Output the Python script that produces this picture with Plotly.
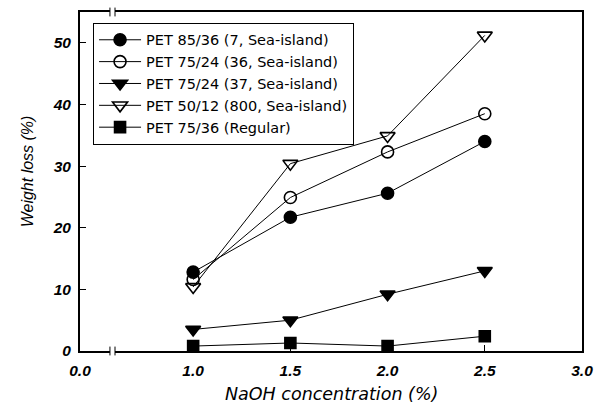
import plotly.graph_objects as go

x_vals = [1.0, 1.5, 2.0, 2.5]
names = [
    "PET 85/36 (7, Sea-island)",
    "PET 75/24 (36, Sea-island)",
    "PET 75/24 (37, Sea-island)",
    "PET 50/12 (800, Sea-island)",
    "PET 75/36 (Regular)",
]
s1 = [12.8, 21.7, 25.6, 34.0]
s2 = [11.6, 24.9, 32.3, 38.5]
s3 = [3.5, 5.0, 9.2, 13.0]
s4 = [10.4, 30.4, 34.9, 51.2]
s5 = [0.8, 1.3, 0.8, 2.4]
series = [s1, s2, s3, s4, s5]
symbols = ["circle", "circle-open", "triangle-down", "triangle-down-open", "square"]
sizes = [12, 12, 13, 13, 11]

x_tick_vals = [0.418, 1.0, 1.5, 2.0, 2.5, 3.0]
x_tick_text = ["0.0", "1.0", "1.5", "2.0", "2.5", "3.0"]
y_tick_vals = [0, 10, 20, 30, 40, 50]
x_title = "NaOH concentration (%)"
y_title = "Weight loss (%)"

FONT = "Liberation Sans, Arial, sans-serif"
WIDE = "DejaVu Sans, sans-serif"

fig = go.Figure()
for name, ys, sym, sz in zip(names, series, symbols, sizes):
    fig.add_trace(go.Scatter(
        x=x_vals, y=ys, name=name, mode="lines+markers",
        line=dict(color="black", width=1),
        marker=dict(symbol=sym, size=sz, color="black",
                    line=dict(color="black", width=1.6)),
    ))

tickfont = dict(size=15.5, family=FONT, weight="bold", style="italic")

fig.update_layout(
    width=602, height=409,
    margin=dict(l=80, r=20, t=12, b=58, autoexpand=False),
    paper_bgcolor="white", plot_bgcolor="white",
    font=dict(family=FONT, color="black"),
    showlegend=True,
    legend=dict(
        x=0.026, y=0.968, xanchor="left", yanchor="top",
        bordercolor="black", borderwidth=1, bgcolor="white",
        font=dict(size=14.5, family=WIDE), tracegroupgap=0,
        itemwidth=42,
    ),
    xaxis=dict(
        range=[0.418, 3.0], tickvals=x_tick_vals, ticktext=x_tick_text,
        showline=True, linecolor="black", linewidth=2, mirror=True,
        ticks="inside", ticklen=6, tickwidth=1, tickcolor="black",
        showgrid=False, zeroline=False, ticklabelstandoff=4,
        tickfont=tickfont, automargin=False,
    ),
    yaxis=dict(
        range=[0, 55], tickvals=y_tick_vals,
        showline=True, linecolor="black", linewidth=2, mirror=True,
        ticks="inside", ticklen=6, tickwidth=1, tickcolor="black",
        showgrid=False, zeroline=False, ticklabelstandoff=4,
        tickfont=tickfont, automargin=False,
    ),
    annotations=[
        dict(text=y_title, textangle=-90, showarrow=False,
             xref="paper", yref="paper", x=-0.1056, y=0.53,
             xanchor="center", yanchor="middle",
             font=dict(size=16, family=FONT, style="italic")),
        dict(text=x_title, showarrow=False,
             xref="paper", yref="paper", x=0.5, y=-0.128,
             xanchor="center", yanchor="middle",
             font=dict(size=17.5, family=WIDE, style="italic")),
    ],
)

# axis break marks (bottom and top)
bx0, bx1 = 0.572, 0.598
for yc in (0.0, 1.0):
    fig.add_shape(type="rect", xref="x", yref="paper",
                  x0=bx0, x1=bx1, y0=yc - 0.006, y1=yc + 0.006,
                  fillcolor="white", line=dict(width=0), layer="above")
    for bx in (bx0, bx1):
        fig.add_shape(type="line", xref="x", yref="paper",
                      x0=bx, x1=bx, y0=yc - 0.013, y1=yc + 0.013,
                      line=dict(color="black", width=1), layer="above")

fig.write_html("out.html")
